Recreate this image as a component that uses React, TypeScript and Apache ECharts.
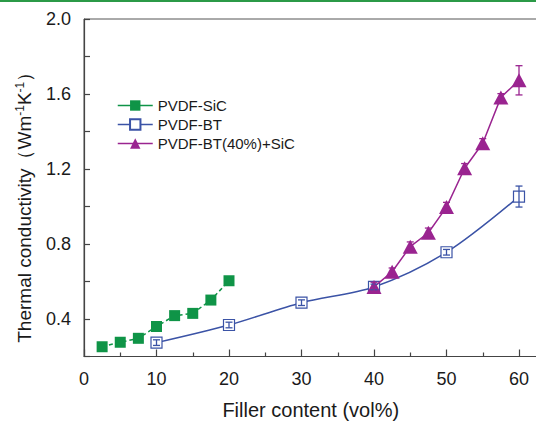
import React, { useEffect, useRef } from 'react';
import * as echarts from 'echarts';

const sicX = [2.5, 5, 7.5, 10, 12.5, 15, 17.5, 20];
const sicY = [0.252, 0.276, 0.297, 0.36, 0.418, 0.43, 0.501, 0.604];
const btX = [10, 20, 30, 40, 50, 60];
const btY = [0.274, 0.368, 0.487, 0.571, 0.756, 1.053];
const btErr = [0.015, 0.015, 0.015, 0.015, 0.015, 0.056];
const hybX = [40, 42.5, 45, 47.5, 50, 52.5, 55, 57.5, 60];
const hybY = [0.571, 0.652, 0.786, 0.86, 0.997, 1.204, 1.337, 1.582, 1.673];
const hybErr = [0.025, 0.02, 0.025, 0.025, 0.025, 0.025, 0.025, 0.02, 0.078];
const seriesNames = ['PVDF-SiC', 'PVDF-BT', 'PVDF-BT(40%)+SiC'];

const GREEN = '#0f9447';
const BLUE = '#3b53a6';
const PURPLE = '#9a2490';
const TEXT = '#1a1a1a';

function errorBarSeries(xs: number[], ys: number[], es: number[], color: string) {
  return {
    type: 'custom',
    z: 5,
    silent: true,
    encode: { x: 0, y: 1 },
    data: xs.map((x, i) => [x, ys[i], es[i]]),
    renderItem: (params: any, api: any) => {
      const x = api.value(0);
      const y = api.value(1);
      const e = api.value(2);
      const top = api.coord([x, y + e]);
      const bot = api.coord([x, y - e]);
      const hw = 3.5;
      const style = { stroke: color, lineWidth: 1.3 };
      return {
        type: 'group',
        children: [
          { type: 'line', shape: { x1: top[0], y1: top[1], x2: bot[0], y2: bot[1] }, style },
          { type: 'line', shape: { x1: top[0] - hw, y1: top[1], x2: top[0] + hw, y2: top[1] }, style },
          { type: 'line', shape: { x1: bot[0] - hw, y1: bot[1], x2: bot[0] + hw, y2: bot[1] }, style },
        ],
      };
    },
  };
}

export default function App() {
  const ref = useRef<HTMLDivElement>(null);
  useEffect(() => {
    if (!ref.current) return;
    const chart = echarts.init(ref.current, undefined, { renderer: 'svg' });
    const font = 'Liberation Sans, Arial, sans-serif';
    chart.setOption({
      animation: false,
      backgroundColor: '#ffffff',
      textStyle: { fontFamily: font },
      graphic: [
        { type: 'rect', shape: { x: 0, y: 0, width: 536, height: 2 }, style: { fill: '#2b9a47' }, z: 10 },
      ],
      grid: {
        left: 84,
        top: 19,
        width: 507.5,
        height: 337.5,
        outerBoundsMode: 'none',
        containLabel: false,
        show: true,
        borderColor: '#555',
        borderWidth: 1,
        backgroundColor: 'transparent',
      },
      legend: {
        left: 112,
        top: 93,
        orient: 'vertical',
        itemWidth: 35,
        itemHeight: 13,
        itemGap: 4,
        data: seriesNames,
        textStyle: { fontSize: 15, color: TEXT, fontFamily: font },
        lineStyle: { type: 'solid', width: 1.5 },
      },
      xAxis: {
        type: 'value',
        min: 0,
        max: 70,
        interval: 10,
        name: 'Filler content (vol%)',
        nameLocation: 'middle',
        nameGap: 43,
        nameTextStyle: { fontSize: 20, color: TEXT, fontFamily: font, padding: [0, 54, 0, 0] },
        axisLine: { show: true, lineStyle: { color: '#444', width: 1.2 } },
        axisTick: { show: true, inside: true, length: 7, lineStyle: { color: '#444', width: 1.2 } },
        minorTick: { show: true, splitNumber: 2, length: 4, lineStyle: { color: '#444', width: 1.2 } },
        axisLabel: {
          fontSize: 18,
          color: TEXT,
          margin: 13,
          fontFamily: font,
          formatter: (v: number) => (v % 10 === 0 && v <= 60 ? String(v) : ''),
        },
        splitLine: { show: false },
      },
      yAxis: {
        type: 'value',
        min: 0.2,
        max: 2.0,
        interval: 0.2,
        name: 'Thermal conductivity（Wm{sup|-1}K{sup|-1}）',
        nameLocation: 'middle',
        nameRotate: 90,
        nameGap: 50,
        nameTextStyle: {
          fontSize: 19,
          color: TEXT,
          fontFamily: font,
          padding: [0, 30, 0, 0],
          rich: {
            sup: { fontSize: 12, color: TEXT, fontFamily: font, verticalAlign: 'top', padding: [0, 0, 8, 0] },
          },
        },
        axisLine: { show: true, lineStyle: { color: '#444', width: 1.2 } },
        axisTick: { show: true, inside: true, length: 6, lineStyle: { color: '#444', width: 1.2 } },
        axisLabel: {
          fontSize: 18,
          color: TEXT,
          margin: 13,
          fontFamily: font,
          formatter: (v: number) => {
            const k = Math.round(v * 10);
            return k % 4 === 0 && k > 2 ? (k / 10).toFixed(1) : '';
          },
        },
        splitLine: { show: false },
      },
      series: [
        {
          name: seriesNames[0],
          type: 'line',
          data: sicX.map((x, i) => [x, sicY[i]]),
          symbol: 'rect',
          symbolSize: 11,
          itemStyle: { color: GREEN },
          lineStyle: { color: GREEN, width: 1.5, type: [4, 3] },
          z: 3,
        },
        {
          name: seriesNames[1],
          type: 'line',
          data: btX.map((x, i) => [x, btY[i]]),
          smooth: 0.3,
          symbol: 'rect',
          symbolSize: 11,
          itemStyle: { color: '#ffffff', borderColor: BLUE, borderWidth: 1.2 },
          lineStyle: { color: BLUE, width: 1.5 },
          z: 3,
        },
        {
          name: seriesNames[2],
          type: 'line',
          data: hybX.map((x, i) => [x, hybY[i]]),
          symbol: 'triangle',
          symbolSize: [15, 14],
          itemStyle: { color: PURPLE },
          lineStyle: { color: PURPLE, width: 1.5 },
          z: 4,
        },
        errorBarSeries(btX, btY, btErr, BLUE),
        errorBarSeries(hybX, hybY, hybErr, PURPLE),
      ],
    });
    return () => chart.dispose();
  }, []);
  return <div ref={ref} style={{ position: 'fixed', left: 0, top: 0, width: 536, height: 423 }} />;
}
